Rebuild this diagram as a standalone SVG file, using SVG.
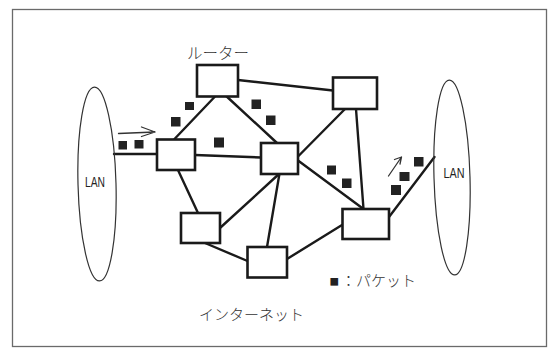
<svg xmlns="http://www.w3.org/2000/svg" width="549" height="348" viewBox="0 0 549 348">
  <defs>
    <style>
      .frame { fill: none; stroke: #6a6a6a; stroke-width: 1.3; }
      .router { fill: #fff; stroke: #1a1a1a; stroke-width: 2.6; }
      .edge { fill: none; stroke: #1a1a1a; stroke-width: 2.4; stroke-linecap: round; }
      .lan { fill: none; stroke: #333; stroke-width: 1.2; }
      .arrow { fill: none; stroke: #333; stroke-width: 1.3; stroke-linecap: round; stroke-linejoin: round; }
      .pkt { fill: #222; }
      .jp { font-family: "Noto Sans CJK JP", "Noto Sans", sans-serif; font-weight: 300; fill: #333; }
      .lanlbl { font-family: "Liberation Sans", "DejaVu Sans", sans-serif; font-size: 15px; fill: #222; text-anchor: middle; }
    </style>
  </defs>
  <rect width="549" height="348" fill="#fff"/>
  <rect class="frame" x="12.5" y="9.5" width="534" height="337"/>

  <g id="connectors">
    <line class="edge" x1="238" y1="80" x2="333" y2="90.5"/>
    <line class="edge" x1="215" y1="96.5" x2="174.5" y2="139"/>
    <line class="edge" x1="224" y1="94" x2="277" y2="143"/>
    <line class="edge" x1="345" y1="109" x2="297" y2="157.5"/>
    <line class="edge" x1="356" y1="109" x2="363.5" y2="209"/>
    <line class="edge" x1="195" y1="155" x2="261" y2="157.5"/>
    <line class="edge" x1="177.5" y1="169" x2="198" y2="213"/>
    <line class="edge" x1="279.5" y1="173.5" x2="220.5" y2="227.5"/>
    <line class="edge" x1="279.5" y1="173.5" x2="267" y2="247"/>
    <line class="edge" x1="298" y1="160.5" x2="363.5" y2="209"/>
    <line class="edge" x1="205" y1="243" x2="247.5" y2="261"/>
    <line class="edge" x1="287" y1="259" x2="342" y2="225"/>
    <line class="edge" x1="114" y1="154" x2="157" y2="154"/>
    <line class="edge" x1="389" y1="217" x2="434.5" y2="157"/>
  </g>

  <g id="lan-left">
    <ellipse class="lan" cx="97" cy="184" rx="19" ry="97" transform="rotate(-1.5 97 184)"/>
    <text class="lanlbl" x="95" y="186.5" textLength="20" lengthAdjust="spacingAndGlyphs">LAN</text>
  </g>
  <g id="lan-right">
    <ellipse class="lan" cx="452" cy="177.5" rx="18" ry="97.5" transform="rotate(-1.6 452 177.5)"/>
    <text class="lanlbl" x="454" y="177.5" textLength="21" lengthAdjust="spacingAndGlyphs">LAN</text>
  </g>

  <g id="router-1"><rect class="router" x="197" y="65" width="41" height="31.5"/></g>
  <g id="router-2"><rect class="router" x="333" y="77.5" width="44" height="31.5"/></g>
  <g id="router-3"><rect class="router" x="157" y="139.5" width="38" height="30.5"/></g>
  <g id="router-4"><rect class="router" x="261" y="143" width="37" height="31"/></g>
  <g id="router-5"><rect class="router" x="181" y="213" width="39" height="30"/></g>
  <g id="router-6"><rect class="router" x="247.5" y="247" width="39.5" height="30.5"/></g>
  <g id="router-7"><rect class="router" x="342.5" y="209" width="46.5" height="30"/></g>

  <g id="packets">
    <rect class="pkt" x="185" y="102" width="9" height="8"/>
    <rect class="pkt" x="171" y="117" width="9.5" height="9.5"/>
    <rect class="pkt" x="118.5" y="141" width="8.5" height="8.5"/>
    <rect class="pkt" x="134.5" y="140" width="9" height="8.5"/>
    <rect class="pkt" x="214" y="137.5" width="10" height="10"/>
    <rect class="pkt" x="251.5" y="99.5" width="9.5" height="9.5"/>
    <rect class="pkt" x="266" y="115.5" width="9.5" height="9.5"/>
    <rect class="pkt" x="327" y="165.5" width="9" height="9"/>
    <rect class="pkt" x="342" y="178.5" width="9.5" height="9.5"/>
    <rect class="pkt" x="391" y="185" width="10" height="10"/>
    <rect class="pkt" x="399.5" y="172" width="10" height="9"/>
    <rect class="pkt" x="414" y="157" width="9.5" height="9.5"/>
  </g>

  <g id="arrows">
    <path class="arrow" d="M118.5 133.5 L155 132 M141.5 127 L155 132 L141.5 136.5"/>
    <path class="arrow" d="M388.5 176 L401.5 157 M394.5 159.5 L401.5 157 L400 164"/>
  </g>

  <g id="labels">
    <text class="jp" x="187" y="59" font-size="15.5">ルーター</text>
    <text class="jp" x="199" y="320" font-size="15">インターネット</text>
    <text class="jp" y="286"><tspan x="329.5" y="285" font-size="9.5" fill="#222">■</tspan><tspan x="341" y="286" font-size="15">：パケット</tspan></text>
  </g>
</svg>
